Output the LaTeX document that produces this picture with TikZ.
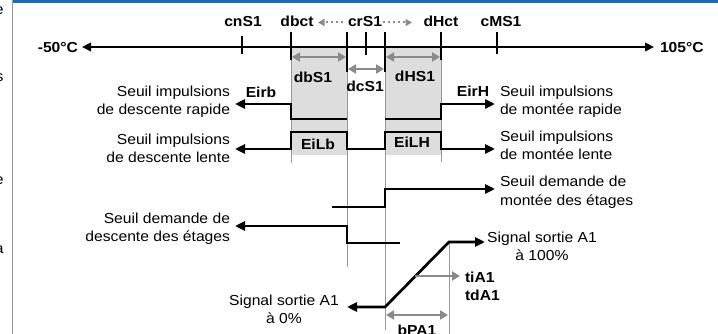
\documentclass[tikz,border=0pt]{standalone}
\usepackage{fontspec}
\setmainfont{Liberation Sans}[FakeStretch=1.08]
\usetikzlibrary{arrows.meta}
\definecolor{barblue}{RGB}{18,108,196}
\definecolor{arrgray}{RGB}{138,138,138}
\definecolor{boxgray}{RGB}{221,221,221}
\definecolor{thingray}{RGB}{150,150,150}
\begin{document}
\begin{tikzpicture}[x=1pt,y=-1pt,
  every node/.style={inner sep=0pt,outer sep=0pt},
  txt/.style={font=\fontsize{14.5}{18}\selectfont},
  bld/.style={font=\fontsize{14.5}{18}\selectfont\bfseries},
  blk/.tip={Triangle[length=10pt,width=9pt]},
  gry/.tip={Triangle[length=8pt,width=9pt]},
  dgry/.tip={Triangle[length=6.5pt,width=7pt]},
  axk/.tip={Triangle[length=9pt,width=8.5pt]},
  sig/.style={line width=2.7pt,black},
  axisline/.style={line width=2.4pt,black},
  tickline/.style={line width=2.4pt,black},
  garr/.style={line width=2.8pt,arrgray},
  darr/.style={line width=2pt,arrgray,dash pattern=on 2pt off 3pt},
  thin/.style={line width=1pt,thingray}]
\useasboundingbox (0,0) rectangle (718,334);
% frame of the page
\fill[barblue] (13,0) rectangle (718,3.3);
\coordinate (frT) at (12.2,0); \coordinate (frB) at (12.2,334);
\draw[line width=1pt,thingray] (frT) -- (frB);
\node[txt,anchor=base east] (fe1) at (3.6,15) {e};
\node[txt,anchor=base east] (fs1) at (3.4,82) {s};
\node[txt,anchor=base east] (fe2) at (3.6,185) {e};
\node[txt,anchor=base east] (fa1) at (3.6,253) {a};
% grey bands
\fill[boxgray] (291,47) rectangle (347,155);
\fill[boxgray] (385,47) rectangle (441,155);
% thin guide lines
\draw[thin] (291,60) -- (291,163);
\draw[thin] (441,60) -- (441,162);
\draw[thin] (347,72) -- (347,267);
\draw[thin] (385,72) -- (385,330);
\draw[thin] (449,242) -- (449,334);
% axis
\node[bld,anchor=base east] (tm50) at (78,53) {-50°C};
\node[bld,anchor=base west] (t105) at (660,53) {105°C};
\coordinate (axL) at (82,47); \coordinate (axR) at (654,47);
\draw[axisline,axk-axk] (axL) -- (axR);
% ticks
\foreach \n/\x/\a/\b in {cn/242/36/54, db/291/32/60, ml/347/32/72, cr/366/32/55, mr/385/32/72, dh/441/32/60, cm/497/32/54}{
  \coordinate (\n T) at (\x,\a); \coordinate (\n B) at (\x,\b);
  \draw[tickline] (\n T) -- (\n B);}
% top labels
\node[bld,anchor=base] (cnS1) at (243,27) {cnS1};
\node[bld,anchor=base] (dbct) at (297,26.5) {dbct};
\node[bld,anchor=base] (crS1) at (365,27) {crS1};
\node[bld,anchor=base] (dHct) at (441,27) {dHct};
\node[bld,anchor=base] (cMS1) at (501,27) {cMS1};
\coordinate (dl1) at (343,22.5); \coordinate (dl2) at (318,22.5);
\coordinate (dr1) at (383,22.5); \coordinate (dr2) at (412,22.5);
\draw[darr,-dgry] (dl1) -- (dl2);
\draw[darr,-dgry] (dr1) -- (dr2);
% band widths
\coordinate (b1L) at (292,57); \coordinate (b1R) at (346,57);
\coordinate (b2L) at (386,57); \coordinate (b2R) at (440,57);
\coordinate (b3L) at (348,69); \coordinate (b3R) at (384,69);
\draw[garr,gry-gry] (b1L) -- (b1R);
\draw[garr,gry-gry] (b2L) -- (b2R);
\draw[garr,gry-gry] (b3L) -- (b3R);
\node[bld,anchor=base] (dbS1) at (313,83) {dbS1};
\node[bld,anchor=base] (dcS1) at (365,92) {dcS1};
\node[bld,anchor=base] (dHS1) at (415,82) {dHS1};
% fast pulses
\coordinate (e1) at (235,104); \coordinate (e2) at (291,104); \coordinate (e3) at (291,119); \coordinate (e4) at (347,119);
\draw[sig,blk-] (e1) -- (e2) -- (e3) -- (e4);
\coordinate (h1) at (385,119); \coordinate (h2) at (441,119); \coordinate (h3) at (441,104); \coordinate (h4) at (495,104);
\draw[sig,-blk] (h1) -- (h2) -- (h3) -- (h4);
\node[bld,anchor=base] (Eirb) at (261,97.5) {Eirb};
\node[bld,anchor=base] (EirH) at (473,97) {EirH};
\node[txt,anchor=base east,align=right] (t1) at (230,115) {Seuil impulsions\\de descente rapide};
\node[txt,anchor=base west,align=left] (t2) at (500,115) {Seuil impulsions\\de montée rapide};
% slow pulses
\coordinate (l1) at (235,149); \coordinate (l2) at (291,149); \coordinate (l3) at (291,132); \coordinate (l4) at (347,132);
\coordinate (l5) at (347,149); \coordinate (l6) at (385,149); \coordinate (l7) at (385,132); \coordinate (l8) at (441,132);
\coordinate (l9) at (441,149); \coordinate (l10) at (495,149);
\draw[sig,blk-blk] (l1) -- (l2) -- (l3) -- (l4) -- (l5) -- (l6) -- (l7) -- (l8) -- (l9) -- (l10);
\node[bld,anchor=base] (EiLb) at (318,150) {EiLb};
\node[bld,anchor=base] (EiLH) at (412,148) {EiLH};
\node[txt,anchor=base east,align=right] (t3) at (230,163) {Seuil impulsions\\de descente lente};
\node[txt,anchor=base west,align=left] (t4) at (500,160) {Seuil impulsions\\de montée lente};
% stage requests
\coordinate (m1) at (332,207); \coordinate (m2) at (385,207); \coordinate (m3) at (385,189); \coordinate (m4) at (495,189);
\draw[sig,-blk] (m1) -- (m2) -- (m3) -- (m4);
\node[txt,anchor=base west,align=left] (t5) at (500,205) {Seuil demande de\\montée des étages};
\coordinate (d1) at (235,226); \coordinate (d2) at (347,226); \coordinate (d3) at (347,243); \coordinate (d4) at (400,243);
\draw[sig,blk-] (d1) -- (d2) -- (d3) -- (d4);
\node[txt,anchor=base east,align=right] (t6) at (230,241) {Seuil demande de\\descente des étages};
% analogue output
\coordinate (s1) at (347,307); \coordinate (s2) at (385,307); \coordinate (s3) at (449,242); \coordinate (s4) at (485,242);
\draw[sig,blk-blk] (s1) -- (s2) -- (s3) -- (s4);
\node[txt,anchor=base,align=center] (t7) at (284,323) {Signal sortie A1\\à 0\%};
\node[txt,anchor=base,align=center] (t8) at (542,260) {Signal sortie A1\\à 100\%};
\coordinate (ti1) at (415,276); \coordinate (ti2) at (460,276);
\draw[garr,-gry] (ti1) -- (ti2);
\node[bld,anchor=base west] (tiA1) at (465,282) {tiA1};
\node[bld,anchor=base west] (tdA1) at (465,300) {tdA1};
\coordinate (bp1) at (386,315); \coordinate (bp2) at (448,315);
\draw[garr,gry-gry] (bp1) -- (bp2);
\node[bld,anchor=base] (bPA1) at (417,335.5) {bPA1};
\end{tikzpicture}
\end{document}
